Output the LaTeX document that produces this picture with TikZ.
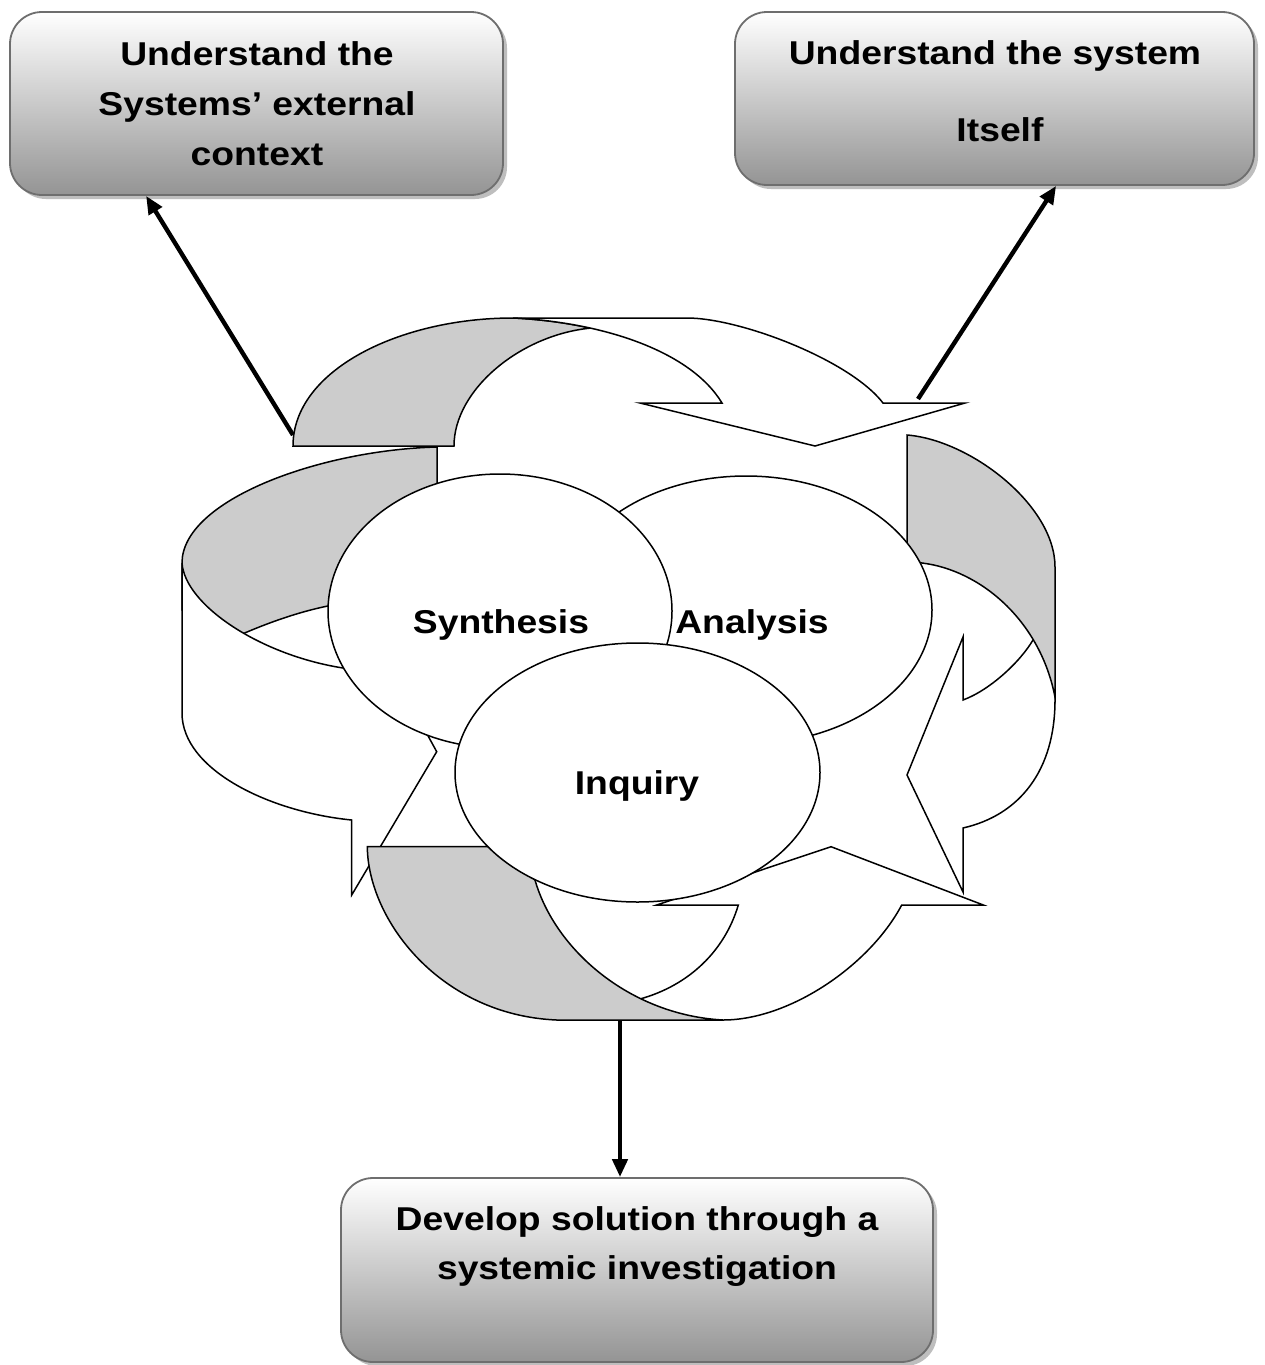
\documentclass[tikz,border=0pt]{standalone}
\usepackage{fontspec}
\setmainfont{Liberation Sans}[FakeStretch=1.13]
\usetikzlibrary{arrows.meta,shapes.geometric,shadows,calc}
\definecolor{ribbon}{RGB}{204,204,204}
\definecolor{boxedge}{RGB}{110,110,110}
\definecolor{boxlow}{RGB}{148,148,148}
\definecolor{boxshade}{RGB}{190,190,190}
\begin{document}
\begin{tikzpicture}[x=1pt,y=-1pt,
  box/.style={draw=boxedge, line width=1.8pt, rounded corners=32pt,
    top color=white, bottom color=boxlow, inner sep=0pt,
    drop shadow={shadow xshift=4pt, shadow yshift=-4pt, fill=boxshade, opacity=1}},
  boxtext/.style={align=center, inner sep=0pt},
  face/.style={draw=black, line width=1.5pt, fill=white},
  back/.style={draw=black, line width=1.5pt, fill=ribbon},
  bubble/.style={ellipse, draw=black, line width=1.5pt, fill=white, inner sep=0pt},
  etext/.style={font=\fontsize{33}{40}\selectfont\bfseries, inner sep=0pt},
  conn/.style={line width=4.4pt, -{Triangle[length=18pt,width=15pt]}}]

\fill[white] (0,0) rectangle (1264,1365);
\useasboundingbox (0,0) rectangle (1264,1365);

% three goal boxes
\node[box, minimum width=493pt, minimum height=183pt] (boxL) at (256.5,103.5) {};
\node[box, minimum width=519pt, minimum height=173pt] (boxR) at (994.5,98.5) {};
\node[box, minimum width=592pt, minimum height=184pt] (boxB) at (637,1270) {};

\node[boxtext, font=\fontsize{33}{50}\selectfont\bfseries] (txtL) at (257,103.3)
  {Understand the\\Systems’ external\\context};
\node[boxtext, font=\fontsize{33}{76.6}\selectfont\bfseries] (txtR) at (995,91)
  {Understand the system\\\hspace*{10pt}Itself};
\node[boxtext, font=\fontsize{33}{49}\selectfont\bfseries] (txtB) at (637,1247)
  {Develop solution through a\\systemic investigation};

% connectors from the cycle to the boxes
\coordinate (fromL) at (293,435);
\coordinate (fromR) at (918,399);
\coordinate (fromB) at (620,1020);
\draw[conn] (fromL) -- ($(boxL.south west)+(137,0)$);
\draw[conn] (fromR) -- ($(boxR.south west)+(322,0)$);
\draw[conn] (fromB) -- (fromB |- boxB.north);

% left ribbon arrow: back face, then front face
\draw[back] (437,447) .. controls (320,450) and (182,500) .. (182,563)
  -- (182,610) -- (243.5,633.5) .. controls (275,620) and (310,608) .. (345,603)
  -- (437,495) -- cycle;
\draw[face] (182,563) -- (182,713) .. controls (182,770) and (270,812) .. (351.7,820)
  -- (351.7,895) -- (436.7,751.7) -- (415,712) -- (343,668)
  .. controls (260,655) and (185,605) .. (182,563) -- cycle;

% top ribbon arrow
\draw[back] (293,446) -- (454,446) .. controls (454,390) and (520,335) .. (590.5,328.1)
  .. controls (565.5,322.6) and (539.1,319.2) .. (513,318)
  .. controls (400,318) and (293,370) .. (293,446) -- cycle;
\draw[face] (513,318) -- (687,318) .. controls (740,318) and (850,360) .. (883,403)
  -- (965,403) -- (815,446) -- (640,403) -- (722,403)
  .. controls (690,350) and (600,322) .. (513,318) -- cycle;

% right ribbon arrow
\draw[face] (1055,640) -- (1055,700) .. controls (1055,770) and (1020,815) .. (963,828)
  -- (963,892) -- (907,775) -- (963,637) -- (963,700)
  .. controls (990,690) and (1020,662) .. (1033,640) -- cycle;
\draw[back] (907,435) .. controls (970,440) and (1055,505) .. (1055,567)
  -- (1055,697) .. controls (1040,620) and (980,570) .. (922,563)
  -- (907,560) -- cycle;

% bottom ribbon arrow
\draw[face] (723,1020) .. controls (790,1020) and (870,965) .. (901.7,905)
  -- (983.3,905) -- (831,846.7) -- (656.7,905) -- (738.3,905)
  .. controls (725,950) and (690,985) .. (640,999) -- (640,1019) -- cycle;
\draw[back] (367.3,846.7) -- (500,846.7) -- (535,880)
  .. controls (555,950) and (630,1015) .. (723,1020) -- (556.7,1020)
  .. controls (440,1015) and (368,920) .. (367.3,846.7) -- cycle;

% the three overlapping activities
\node[bubble, minimum width=372pt, minimum height=268pt] (ana) at (746,610) {};
\node[bubble, minimum width=344pt, minimum height=274pt] (syn) at (500,611) {};
\node[bubble, minimum width=365pt, minimum height=259pt] (inq) at (637.5,772.5) {};

\node[etext] (tSyn) at (501,625) {Synthesis};
\node[etext] (tAna) at (752,625) {Analysis};
\node[etext] (tInq) at (637,786) {Inquiry};
\end{tikzpicture}
\end{document}
